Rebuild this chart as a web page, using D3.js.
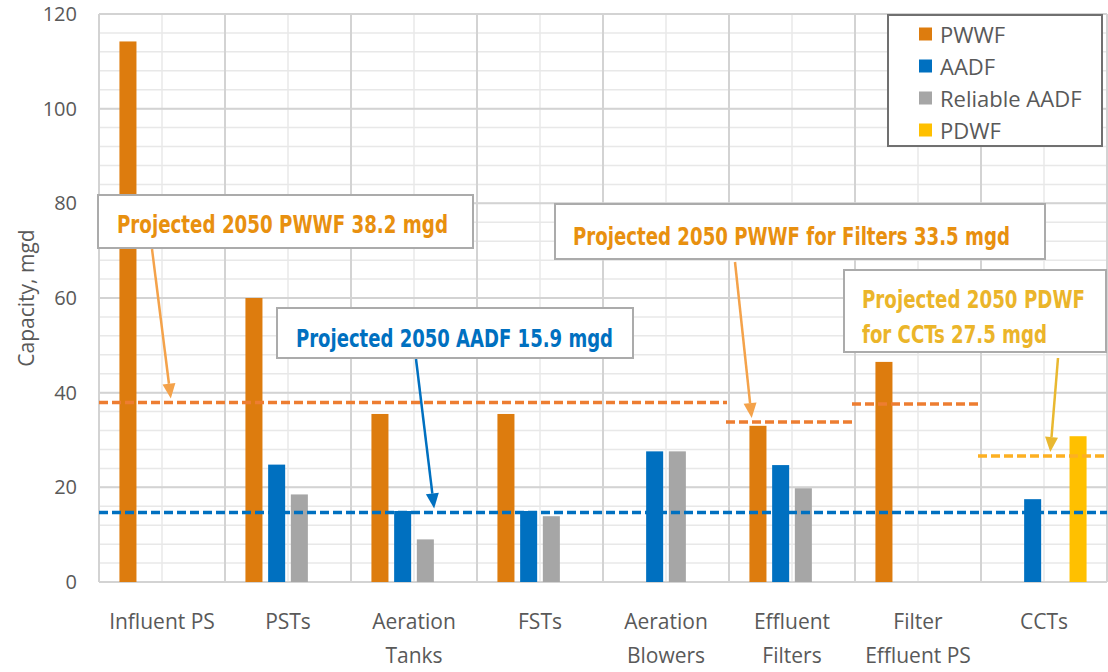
<!DOCTYPE html>
<html>
<head>
<meta charset="utf-8">
<script src="https://cdn.jsdelivr.net/npm/d3@7"></script>
<style>
  body { margin: 0; background: #fff; }
  svg { display: block; }
  text { font-family: "Open Sans", "Noto Sans", sans-serif; fill: #595959; }
  .note { font-family: "Liberation Sans Narrow", "DejaVu Sans Condensed", "Roboto", sans-serif; font-weight: bold; }
</style>
</head>
<body>
<svg id="chart" width="1108" height="672"></svg>
<script>
// data
const categories = ['Influent PS', 'PSTs', 'Aeration Tanks', 'FSTs', 'Aeration Blowers', 'Effluent Filters', 'Filter Effluent PS', 'CCTs']
const categoryLines = [['Influent PS'], ['PSTs'], ['Aeration', 'Tanks'], ['FSTs'], ['Aeration', 'Blowers'], ['Effluent', 'Filters'], ['Filter', 'Effluent PS'], ['CCTs']]
const seriesNames = ['PWWF', 'AADF', 'Reliable AADF', 'PDWF']
const pwwf = [114.2, 60, 35.5, 35.5, null, 33, 46.5, null]
const aadf = [null, 24.8, 15, 15, 27.6, 24.7, null, 17.5]
const reliableAadf = [null, 18.5, 9, 13.9, 27.6, 19.8, null, null]
const pdwf = [null, null, null, null, null, null, null, 30.8]
const yTicks = [0, 20, 40, 60, 80, 100, 120]

// projected 2050 reference lines (value, first and last category covered)
const refNames = ['PWWF', 'PWWF Filters', 'PWWF Filter PS', 'PDWF CCTs', 'AADF']
const refValues = [37.9, 33.8, 37.6, 26.6, 14.7]
const refFrom = ['Influent PS', 'Effluent Filters', 'Filter Effluent PS', 'CCTs', 'Influent PS']
const refTo = ['Aeration Blowers', 'Effluent Filters', 'Filter Effluent PS', 'CCTs', 'CCTs']

// annotation texts
const noteTexts = [
  ['Projected 2050 PWWF 38.2 mgd'],
  ['Projected 2050 AADF 15.9 mgd'],
  ['Projected 2050 PWWF for Filters 33.5 mgd'],
  ['Projected 2050 PDWF', 'for CCTs 27.5 mgd']
]

const seriesValues = [pwwf, aadf, reliableAadf, pdwf]
const seriesColors = ['#DD7C0E', '#0070C0', '#A6A6A6', '#FFC000']
const refColors = ['#ED7D31', '#ED7D31', '#ED7D31', '#FDB022', '#0070C0']

const svg = d3.select('#chart')
const plotLeft = 99, plotRight = 1107, plotTop = 14, plotBottom = 582

const x0 = d3.scaleBand().domain(categories).range([plotLeft, plotRight])
const x1 = d3.scaleBand().domain(seriesNames).range([0, x0.bandwidth()])
  .paddingInner(0.25).paddingOuter(0.9)
const y = d3.scaleLinear().domain([0, 120]).range([plotBottom, plotTop])
// category units, used to place the annotation arrows
const xc = d3.scaleLinear().domain([0, categories.length]).range([plotLeft, plotRight])

// gridlines
const grid = svg.append('g')
grid.selectAll('.hminor')
  .data(d3.range(0, 121, 4))
  .enter().append('line')
  .attr('x1', plotLeft).attr('x2', plotRight)
  .attr('y1', d => y(d)).attr('y2', d => y(d))
  .style('stroke', '#e8e8e8').style('stroke-width', 1.5)
grid.selectAll('.vminor')
  .data(categories)
  .enter().append('line')
  .attr('x1', d => x0(d) + x0.bandwidth() / 2).attr('x2', d => x0(d) + x0.bandwidth() / 2)
  .attr('y1', plotTop).attr('y2', plotBottom)
  .style('stroke', '#e8e8e8').style('stroke-width', 1.5)
grid.selectAll('.hmajor')
  .data(yTicks)
  .enter().append('line')
  .attr('x1', plotLeft).attr('x2', plotRight)
  .attr('y1', d => y(d)).attr('y2', d => y(d))
  .style('stroke', '#d3d3d3').style('stroke-width', 2)
grid.selectAll('.vmajor')
  .data(categories.concat(['end']))
  .enter().append('line')
  .attr('x1', d => d === 'end' ? plotRight : x0(d)).attr('x2', d => d === 'end' ? plotRight : x0(d))
  .attr('y1', plotTop).attr('y2', plotBottom)
  .style('stroke', '#d3d3d3').style('stroke-width', 2)

// bars
const groups = svg.append('g').selectAll('g')
  .data(categories)
  .enter().append('g')
  .attr('transform', d => 'translate(' + x0(d) + ',0)')

groups.selectAll('rect')
  .data((d, i) => seriesNames.map((s, j) => ({ series: s, value: seriesValues[j][i], color: seriesColors[j] }))
    .filter(d => d.value != null))
  .enter().append('rect')
  .attr('x', d => x1(d.series))
  .attr('width', x1.bandwidth())
  .attr('y', d => y(d.value))
  .attr('height', d => plotBottom - y(d.value))
  .style('fill', d => d.color)

// dashed reference lines
svg.append('g').selectAll('line')
  .data(refValues)
  .enter().append('line')
  .attr('x1', (d, i) => x0(refFrom[i]) - (i > 0 && i < 4 ? 3 : 0))
  .attr('x2', (d, i) => x0(refTo[i]) + x0.bandwidth() - (i < 3 ? 2 : 0))
  .attr('y1', d => y(d)).attr('y2', d => y(d))
  .style('stroke', (d, i) => refColors[i])
  .style('stroke-width', 3.5)
  .style('stroke-dasharray', '9,4')

// y axis labels
const yAxis = d3.axisLeft(y).tickValues(yTicks).tickSize(0).tickPadding(22)
svg.append('g')
  .attr('transform', 'translate(' + plotLeft + ',0)')
  .call(yAxis)
  .call(g => g.select('.domain').remove())
  .selectAll('text')
  .style('font-size', '20px')
  .style('font-family', '"Open Sans", sans-serif')
  .style('fill', '#595959')

svg.append('text')
  .attr('transform', 'translate(26,' + (plotTop + plotBottom) / 2 + ') rotate(-90)')
  .attr('text-anchor', 'middle')
  .attr('dominant-baseline', 'central')
  .style('font-size', '21px')
  .text('Capacity, mgd')

// x axis labels (two lines where needed)
const xAxis = d3.axisBottom(x0).tickSize(0).tickFormat('')
const xg = svg.append('g')
  .attr('transform', 'translate(0,' + plotBottom + ')')
  .call(xAxis)
xg.select('.domain').remove()
xg.selectAll('.tick').each(function(d, i) {
  const t = d3.select(this).append('text')
    .attr('text-anchor', 'middle')
    .style('font-size', '21px')
    .style('fill', '#595959')
  categoryLines[i].forEach((line, k) => {
    t.append('tspan').attr('x', 0).attr('y', 47 + k * 34).text(line)
  })
})

// legend
const legend = svg.append('g')
legend.append('rect')
  .attr('x', 888).attr('y', 15).attr('width', 214).attr('height', 131)
  .style('fill', '#fff').style('stroke', '#707070').style('stroke-width', 2)
const items = legend.selectAll('.item')
  .data(seriesNames)
  .enter().append('g')
  .attr('transform', (d, i) => 'translate(919,' + (34 + i * 32) + ')')
items.append('rect')
  .attr('x', 0).attr('y', -6.5).attr('width', 13).attr('height', 13)
  .style('fill', (d, i) => seriesColors[i])
items.append('text')
  .attr('x', 21).attr('dominant-baseline', 'central')
  .style('font-size', '22px')
  .text(d => d)

// annotation boxes and arrows
const noteBoxes = [
  { x: 98, y: 195, w: 375, h: 53, tx: 117, tw: [331], base: 233, color: '#E8900F' },
  { x: 277, y: 308, w: 356, h: 50, tx: 296, tw: [317], base: 347, color: '#0070C0' },
  { x: 555, y: 204, w: 490, h: 55, tx: 573, tw: [437], base: 245, color: '#E8900F' },
  { x: 844, y: 270, w: 262, h: 82, tx: 862, tw: [223, 185], base: 308, color: '#EBB52A' }
]
// arrow start (px) and tip (category units, reference line value)
const noteArrows = [
  { sx: 152, sy: 249, cat: 0.57, ref: 0, color: '#F4A24A' },
  { sx: 416, sy: 359, cat: 2.66, ref: 4, color: '#0070C0' },
  { sx: 735, sy: 262, cat: 5.18, ref: 1, color: '#F4A24A' },
  { sx: 1058, sy: 358, cat: 7.55, ref: 3, color: '#E9B830' }
]

const notes = svg.append('g')
noteArrows.forEach(a => {
  const tx = xc(a.cat), ty = y(refValues[a.ref]) - 4
  const ang = Math.atan2(ty - a.sy, tx - a.sx)
  const len = 15, half = 6.5
  const bx = tx - len * Math.cos(ang), by = ty - len * Math.sin(ang)
  notes.append('line')
    .attr('x1', a.sx).attr('y1', a.sy).attr('x2', bx).attr('y2', by)
    .style('stroke', a.color).style('stroke-width', 2.5)
  notes.append('path')
    .attr('d', 'M' + tx + ',' + ty +
      'L' + (bx + half * Math.sin(ang)) + ',' + (by - half * Math.cos(ang)) +
      'L' + (bx - half * Math.sin(ang)) + ',' + (by + half * Math.cos(ang)) + 'Z')
    .style('fill', a.color)
})

noteBoxes.forEach((b, i) => {
  notes.append('rect')
    .attr('x', b.x).attr('y', b.y).attr('width', b.w).attr('height', b.h)
    .style('fill', '#fff').style('stroke', '#ababab').style('stroke-width', 2)
  noteTexts[i].forEach((line, k) => {
    // condensed look: smaller font stretched vertically, fitted to the measured width
    notes.append('text')
      .attr('class', 'note')
      .attr('transform', 'translate(' + b.tx + ',' + (b.base + k * 35) + ') scale(1,1.2)')
      .attr('textLength', b.tw[k])
      .attr('lengthAdjust', 'spacingAndGlyphs')
      .style('font-size', '21px')
      .style('fill', b.color)
      .text(line)
  })
})
</script>
</body>
</html>
